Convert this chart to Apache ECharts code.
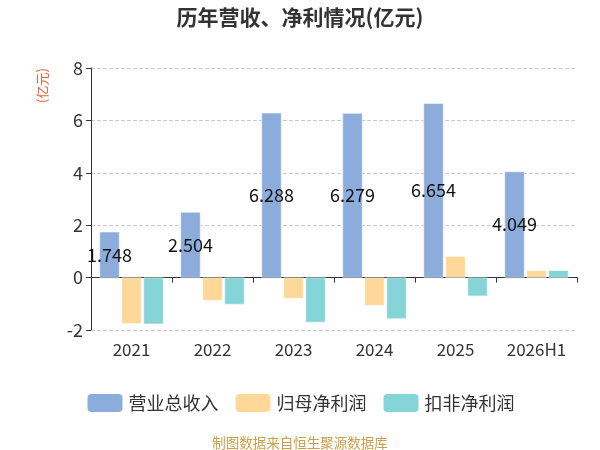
<!DOCTYPE html>
<html>
<head>
<meta charset="utf-8">
<script src="https://cdn.jsdelivr.net/npm/echarts@6/dist/echarts.min.js"></script>
<style>
    html, body { margin: 0; padding: 0; background: #fff; }
    #main { width: 600px; height: 450px; }
</style>
</head>
<body>
<div id="main"></div>
<script>
var years = ['2021', '2022', '2023', '2024', '2025', '2026H1'];
var revenue = [1.748, 2.504, 6.288, 6.279, 6.654, 4.049];
var netProfit = [-1.76, -0.88, -0.80, -1.07, 0.82, 0.27];
var deductedProfit = [-1.78, -1.03, -1.71, -1.58, -0.71, 0.28];
var seriesNames = ['营业总收入', '归母净利润', '扣非净利润'];
var colors = ['#8cacdb', '#fed898', '#85d5d8'];

var chart = echarts.init(document.getElementById('main'));

chart.setOption({
    color: colors,
    textStyle: {
        fontFamily: '"Noto Sans CJK SC", "Noto Sans", sans-serif'
    },
    title: [{
        text: '历年营收、净利情况(亿元)',
        left: 'center',
        top: 2,
        textStyle: {color: '#333', fontSize: 21, fontWeight: 'bold'}
    }, {
        text: '制图数据来自恒生聚源数据库',
        left: 'center',
        top: 431,
        textStyle: {color: '#c9a04a', fontSize: 13.5, fontWeight: 'normal'}
    }],
    graphic: [{
        type: 'text',
        x: 36,
        y: 103,
        rotation: Math.PI / 2,
        style: {
            text: '(亿元)',
            fill: '#e8603c',
            fontSize: 13,
            fontFamily: '"Noto Sans CJK SC", sans-serif'
        }
    }],
    legend: {
        data: seriesNames,
        left: 'center',
        top: 387,
        itemWidth: 37,
        itemHeight: 20,
        itemGap: 15,
        textStyle: {color: '#333', fontSize: 18}
    },
    grid: {
        left: 91,
        right: 23,
        top: 68,
        bottom: 120
    },
    xAxis: {
        type: 'category',
        data: years,
        axisLine: {lineStyle: {color: '#333'}},
        axisTick: {show: true, lineStyle: {color: '#333'}},
        axisLabel: {color: '#333', fontSize: 17, margin: 11, interval: 0}
    },
    yAxis: {
        type: 'value',
        min: -2,
        max: 8,
        interval: 2,
        axisLine: {show: true, lineStyle: {color: '#333'}},
        axisTick: {show: true, lineStyle: {color: '#333'}},
        axisLabel: {color: '#333', fontSize: 18},
        splitLine: {lineStyle: {color: '#ccc', type: 'dashed'}}
    },
    series: [{
        name: seriesNames[0],
        type: 'bar',
        data: revenue,
        barWidth: 20,
        barGap: '10%',
        itemStyle: {borderColor: '#fff', borderWidth: 0.5},
        label: {
            show: true,
            position: 'inside',
            color: '#111',
            fontSize: 18
        }
    }, {
        name: seriesNames[1],
        type: 'bar',
        data: netProfit,
        barWidth: 20,
        barGap: '10%',
        itemStyle: {borderColor: '#fff', borderWidth: 0.5}
    }, {
        name: seriesNames[2],
        type: 'bar',
        data: deductedProfit,
        barWidth: 20,
        barGap: '10%',
        itemStyle: {borderColor: '#fff', borderWidth: 0.5}
    }]
});
</script>
</body>
</html>
